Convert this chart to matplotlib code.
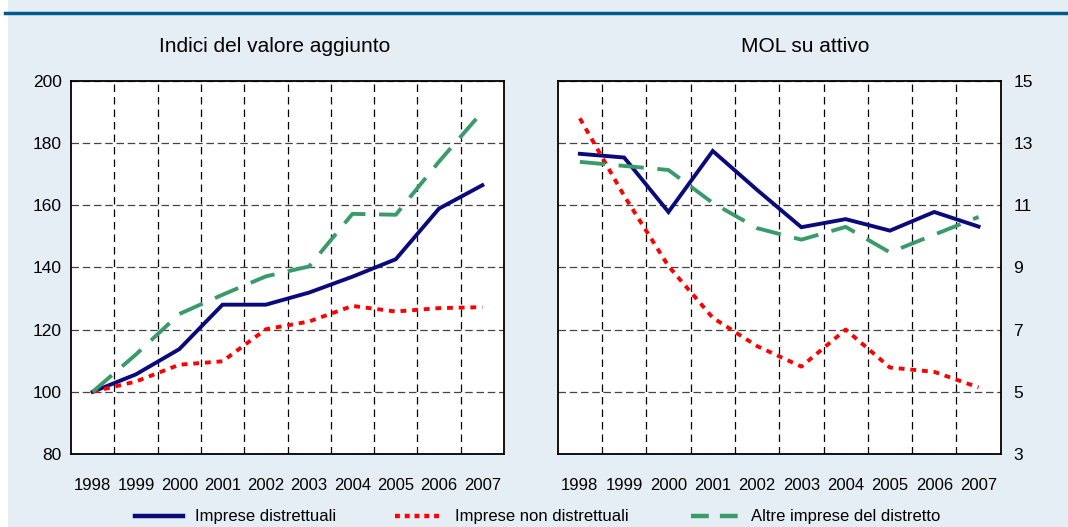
import numpy as np
import matplotlib
matplotlib.use("Agg")
import matplotlib.pyplot as plt
from matplotlib.patches import Rectangle
from matplotlib.lines import Line2D

plt.rcParams['font.family'] = ['Liberation Sans Narrow', 'Liberation Sans', 'DejaVu Sans']

years = ['1998', '1999', '2000', '2001', '2002', '2003', '2004', '2005', '2006', '2007']

# Indici del valore aggiunto
va_distrettuali = [100, 105.6, 113.7, 128, 128, 131.9, 137, 142.6, 158.9, 166.4]
va_non_distrettuali = [100, 103.3, 108.7, 109.8, 120.1, 122.6, 127.6, 125.8, 126.9, 127.2]
va_altre = [100, 112, 125, 131.2, 137.1, 140.3, 157.2, 156.9, 174, 190]

# MOL su attivo
mol_distrettuali = [12.65, 12.53, 10.78, 12.74, 11.49, 10.29, 10.55, 10.18, 10.78, 10.31]
mol_non_distrettuali = [13.79, 11.3, 9.04, 7.38, 6.47, 5.81, 7.0, 5.78, 5.64, 5.14]
mol_altre = [12.39, 12.26, 12.13, 11.07, 10.26, 9.89, 10.3, 9.48, 10.05, 10.62]

bg = '#e6eef5'
navy = '#0a0a7a'
red = '#ff0000'
green = '#3a9a6a'

fig = plt.figure(figsize=(10.68, 5.27), dpi=100)
fig.patch.set_facecolor('white')
fig.add_artist(Rectangle((8 / 1068, 0), 1, 1, transform=fig.transFigure,
                         facecolor=bg, edgecolor='none', zorder=-10))
fig.add_artist(Line2D([5 / 1068, 1], [1 - 13 / 527] * 2, transform=fig.transFigure,
                      color='#005a8c', lw=2.5))

ax1 = fig.add_axes([71 / 1068, 0.1385, 433 / 1068, 0.7084])
ax2 = fig.add_axes([557.7 / 1068, 0.1385, 443 / 1068, 0.7084])

x = np.arange(len(years))


def style(ax, ylim, yticks, right=False):
    ax.set_facecolor('white')
    ax.set_xlim(-0.5, 9.5)
    ax.set_ylim(*ylim)
    ax.set_yticks(yticks)
    ax.set_xticks(x)
    ax.set_xticklabels(years)
    ax.set_xticks(np.arange(0.5, 9, 1), minor=True)
    ax.tick_params(axis='x', which='both', length=0, labelsize=12, pad=17)
    ax.tick_params(axis='y', length=0, labelsize=12.5, pad=9 if right else 6.5)
    if right:
        ax.yaxis.tick_right()
    ax.grid(axis='x', which='minor', color='black', linestyle=(0, (6, 4)), lw=0.9)
    ax.grid(axis='y', which='major', color='#444444', linestyle=(0, (6, 3)), lw=0.9)
    for s in ax.spines.values():
        s.set_linewidth(1.3)
        s.set_color('black')


def draw(ax, a, b, c):
    h1, = ax.plot(x, a, color=navy, lw=2.8, solid_joinstyle='miter', zorder=3,
                  label='Imprese distrettuali')
    h2, = ax.plot(x, b, color=red, lw=2.8, linestyle=(0, (1.5, 1.5)), zorder=3,
                  label='Imprese non distrettuali')
    h3, = ax.plot(x, c, color=green, lw=2.8, linestyle=(0, (6.5, 3.5)), zorder=3,
                  label='Altre imprese del distretto')
    return [h1, h2, h3]


handles = draw(ax1, va_distrettuali, va_non_distrettuali, va_altre)
style(ax1, (80, 200), np.arange(80, 201, 20))
draw(ax2, mol_distrettuali, mol_non_distrettuali, mol_altre)
style(ax2, (3, 15), np.arange(3, 16, 2), right=True)

fig.text(275 / 1068, 1 - 47 / 527, 'Indici del valore aggiunto', ha='center',
         va='center', fontsize=15)
fig.text(805 / 1068, 1 - 47 / 527, 'MOL su attivo', ha='center', va='center',
         fontsize=15)

# legend entries placed individually, as in the reference
leg_handles = [
    Line2D([], [], color=navy, lw=3.2),
    Line2D([], [], color=red, lw=3.2, linestyle=(0, (1.1, 1.1))),
    Line2D([], [], color=green, lw=3.2, linestyle=(0, (4, 2.5))),
]
leg_x = [135, 395, 691]
for h, l, lx in zip(leg_handles, [h.get_label() for h in handles], leg_x):
    fig.legend([h], [l], loc='center left', bbox_to_anchor=(lx / 1068, 1 - 517 / 527),
               frameon=False, fontsize=12, handlelength=2.85, handletextpad=0.75,
               borderpad=0, borderaxespad=0)

fig.savefig('out.png', dpi=100, facecolor=fig.get_facecolor())
